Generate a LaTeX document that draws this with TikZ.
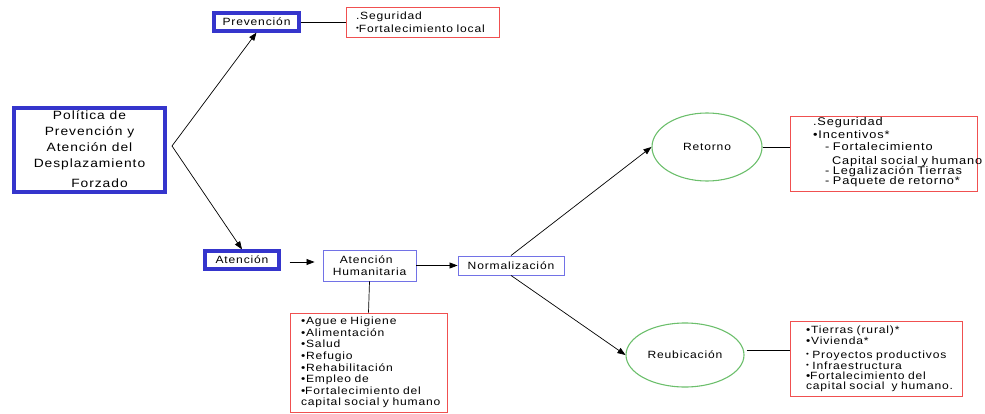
\documentclass[tikz,border=0pt]{standalone}
\usepackage{fontspec}
\setmainfont{Liberation Sans}[FakeStretch=1.15, LetterSpace=8]
\usetikzlibrary{arrows.meta, positioning, shapes.geometric}

\definecolor{azulfuerte}{HTML}{3535CC}
\definecolor{azulfino}{HTML}{7272E6}
\definecolor{rojo}{HTML}{F05050}
\definecolor{verde}{HTML}{6CBF6C}

\newcommand{\vbajo}{.}
\newcommand{\valto}{\raisebox{2pt}{\scriptsize•}}

\begin{document}
\begin{tikzpicture}[
  x=1pt, y=-1pt,
  font=\fontsize{10.5}{11.6}\selectfont,
  politica/.style={draw=azulfuerte, line width=3.8pt, align=center, inner sep=0pt,
                   font=\fontsize{12}{16}\selectfont},
  etapa/.style={draw=azulfuerte, line width=3.2pt, inner sep=0pt},
  proceso/.style={draw=azulfino, line width=0.9pt, inner sep=0pt},
  lista/.style={draw=rojo, line width=0.9pt, align=left, inner ysep=0pt},
  fase/.style={ellipse, draw=verde, line width=1.1pt, inner sep=0pt},
  flecha/.style={-{Triangle[length=8pt,width=6pt]}, line width=0.7pt},
  enlace/.style={line width=0.7pt},
]
\useasboundingbox (0,0) rectangle (985,414);

% ---- politica y primer nivel ----
\node[politica, minimum width=151pt, minimum height=84pt] (politica) at (89.5,150)
  {Política de\\Prevención y\\Atención del\\Desplazamiento\\[4pt]\hspace*{20pt}Forzado\rule[-2pt]{0pt}{0pt}};
\coordinate (rama) at (172,146);

\node[etapa, minimum width=85pt, minimum height=18pt] (prevencion) at (256.5,22) {Prevención};
\node[etapa, minimum width=74pt, minimum height=18pt] (atencion) at (242,260) {Atención};

\draw[flecha] (rama) -- (prevencion.south);
\draw[flecha] (rama) -- (atencion.north);

% ---- prevencion ----
\node[lista, minimum width=147pt, minimum height=30pt, text width=133pt, inner xsep=10pt] (listaprev) at (422.5,22)
  {\vbajo Seguridad\\[1pt]\valto\mbox{Fortalecimiento local}};
\draw[enlace] (prevencion.east) -- (listaprev.west);

% ---- atencion humanitaria ----
\node[proceso, minimum width=93pt, minimum height=31pt, align=left] (humanitaria) at (369.5,265.5)
  {\hspace*{7pt}Atención\\Humanitaria};
\node[proceso, minimum width=106pt, minimum height=19pt] (normal) at (511,265.5) {Normalización};

\draw[flecha, shorten <=9pt, shorten >=8pt] ([yshift=-2pt]atencion.east) -- ([yshift=3.5pt]humanitaria.west);
\draw[flecha] (humanitaria.east) -- (normal.west);

\node[lista, minimum width=157pt, minimum height=99pt, text width=135pt, inner xsep=11pt] (listahum) at (368.5,362.5)
  {•Ague e Higiene\\•Alimentación\\•Salud\\•Refugio\\•Rehabilitación\\•Empleo de\\
   •\mbox{Fortalecimiento del}\\\mbox{capital social y humano}};
\draw[enlace] (humanitaria.south) -- (listahum.north);

% ---- retorno y reubicacion ----
\node[fase, minimum width=110pt, minimum height=68pt] (retorno) at (707,147) {Retorno};
\node[fase, minimum width=118pt, minimum height=64pt] (reubica) at (685,355) {Reubicación};

\draw[flecha] (normal.north) -- (retorno.west);
\draw[flecha] (normal.south) -- (reubica.west);

\node[lista, minimum width=187pt, minimum height=75pt, text width=141pt, inner xsep=23pt,
      font=\fontsize{11.1}{12}\selectfont] (listaret) at (883.5,153.5)
  {\vbajo Seguridad\\[1pt]•Incentivos*\\[0pt]
   \hspace*{12pt}- Fortalecimiento\\[2pt]
   \hspace*{19pt}\mbox{Capital social y humano}\\[-2pt]
   \hspace*{12pt}\mbox{- Legalización Tierras}\\[-2pt]
   \hspace*{12pt}\mbox{- Paquete de retorno*}\rule[-5pt]{0pt}{0pt}};
\draw[enlace] (retorno.east) -- (retorno.east -| listaret.west);

\node[lista, minimum width=172pt, minimum height=75pt, text width=140pt, inner xsep=16pt] (listareu) at (876,358.5)
  {•Tierras (rural)*\\•Vivienda*\\[2pt]
   \mbox{\valto\ Proyectos productivos}\\[-1pt]
   \mbox{\valto\ Infraestructura}\\[-1.5pt]
   •\mbox{Fortalecimiento del}\\[-1.5pt]
   \mbox{capital social\ \ y humano.}};
\draw[enlace] ([xshift=2pt,yshift=5pt]reubica.east) -- ([yshift=5pt]reubica.east -| listareu.west);
\end{tikzpicture}
\end{document}
